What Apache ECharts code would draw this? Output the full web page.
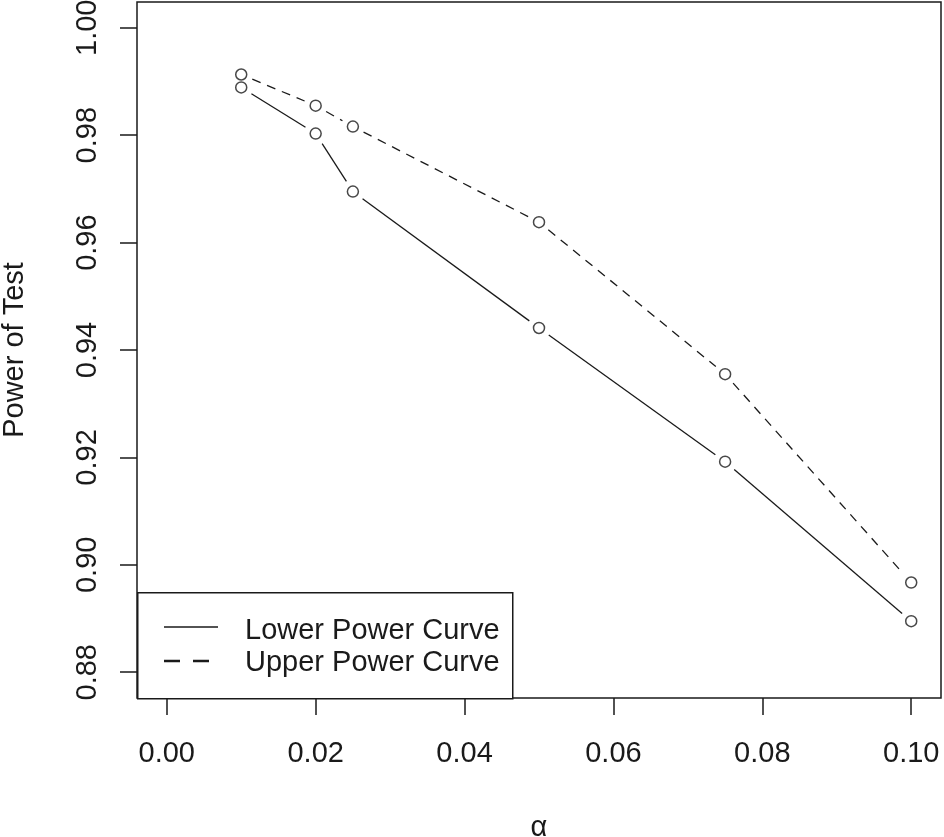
<!DOCTYPE html>
<html>
<head>
<meta charset="utf-8">
<script src="https://cdn.jsdelivr.net/npm/echarts@6/dist/echarts.min.js"></script>
<style>
html,body{margin:0;padding:0;background:#fff;}
#chart{width:944px;height:837px;}
</style>
</head>
<body>
<div id="chart"></div>
<script>
const alphas = [0.01, 0.02, 0.025, 0.05, 0.075, 0.10];
const lowerPower = [0.9889, 0.9803, 0.9695, 0.9441, 0.9192, 0.8895];
const upperPower = [0.9913, 0.9855, 0.9816, 0.9638, 0.9355, 0.8967];
const xTicks = [0.00, 0.02, 0.04, 0.06, 0.08, 0.10];
const yTicks = [0.88, 0.90, 0.92, 0.94, 0.96, 0.98, 1.00];
const seriesNames = ['Lower Power Curve', 'Upper Power Curve'];

const FONT = '"Liberation Sans", Arial, sans-serif';
const INK = '#1a1a1a';
const FS = 29;

const chart = echarts.init(document.getElementById('chart'), null, {renderer: 'canvas'});

function pairs(ys) { return alphas.map((a, i) => [a, ys[i]]); }
function segs(ys) {
  const out = [];
  for (let i = 0; i < alphas.length - 1; i++) out.push([alphas[i], ys[i], alphas[i+1], ys[i+1]]);
  return out;
}
function gappedSegment(dash) {
  return function (params, api) {
    const p0 = api.coord([api.value(0), api.value(1)]);
    const p1 = api.coord([api.value(2), api.value(3)]);
    const dx = p1[0] - p0[0], dy = p1[1] - p0[1];
    const len = Math.sqrt(dx*dx + dy*dy);
    const gap = 12;
    if (len <= 2*gap) return null;
    const ux = dx/len, uy = dy/len;
    return {
      type: 'line',
      shape: {x1: p0[0] + ux*gap, y1: p0[1] + uy*gap, x2: p1[0] - ux*gap, y2: p1[1] - uy*gap},
      style: {stroke: INK, lineWidth: 1.3, lineDash: dash, fill: null}
    };
  };
}

const option = {
  backgroundColor: '#fff',
  animation: false,
  grid: {left: 137, right: 3, top: 2, bottom: 139, show: true, borderColor: INK, borderWidth: 1.5,
    backgroundColor: 'transparent', containLabel: false, outerBoundsMode: 'none'},
  xAxis: {
    type: 'value', min: -0.004, max: 0.104,
    name: 'α', nameLocation: 'middle', nameGap: 115,
    nameTextStyle: {fontFamily: FONT, fontSize: FS, color: INK},
    axisLine: {show: false, onZero: false},
    axisTick: {show: true, length: 17, lineStyle: {color: INK, width: 1.5}, customValues: xTicks},
    axisLabel: {fontFamily: FONT, fontSize: FS, color: INK, margin: 41, customValues: xTicks,
      formatter: v => v.toFixed(2)},
    splitLine: {show: false}
  },
  yAxis: {
    type: 'value', min: 0.8752, max: 1.0048,
    name: 'Power of Test', nameLocation: 'middle', nameGap: 108,
    nameTextStyle: {fontFamily: FONT, fontSize: FS, color: INK},
    axisLine: {show: false, onZero: false},
    axisTick: {show: true, length: 17, lineStyle: {color: INK, width: 1.5}, customValues: yTicks},
    axisLabel: {fontFamily: FONT, fontSize: FS, color: INK, margin: 35, rotate: 90, customValues: yTicks,
      formatter: v => v.toFixed(2)},
    splitLine: {show: false}
  },
  series: [
    {name: seriesNames[0] + ' lines', type: 'custom', renderItem: gappedSegment(null), data: segs(lowerPower), z: 2},
    {name: seriesNames[1] + ' lines', type: 'custom', renderItem: gappedSegment([9, 7]), data: segs(upperPower), z: 2},
    {name: seriesNames[0], type: 'scatter', data: pairs(lowerPower), symbol: 'circle', symbolSize: 11,
      itemStyle: {color: '#fff', borderColor: INK, borderWidth: 1.5}, z: 3},
    {name: seriesNames[1], type: 'scatter', data: pairs(upperPower), symbol: 'circle', symbolSize: 11,
      itemStyle: {color: '#fff', borderColor: INK, borderWidth: 1.5}, z: 3}
  ],
  graphic: [
    {type: 'rect', left: 137, top: 592, shape: {width: 375, height: 106},
      style: {fill: '#fff', stroke: INK, lineWidth: 1.5}, z: 10},
    {type: 'line', shape: {x1: 164, y1: 627, x2: 218, y2: 627}, style: {stroke: INK, lineWidth: 1.5}, z: 11},
    {type: 'line', shape: {x1: 164, y1: 661, x2: 218, y2: 661}, style: {stroke: INK, lineWidth: 2.5, lineDash: [16, 13]}, z: 11},
    {type: 'text', left: 245, top: 616, style: {text: seriesNames[0], font: FS + 'px ' + FONT, fill: INK}, z: 11},
    {type: 'text', left: 245, top: 648, style: {text: seriesNames[1], font: FS + 'px ' + FONT, fill: INK}, z: 11}
  ]
};
chart.setOption(option);
</script>
</body>
</html>
